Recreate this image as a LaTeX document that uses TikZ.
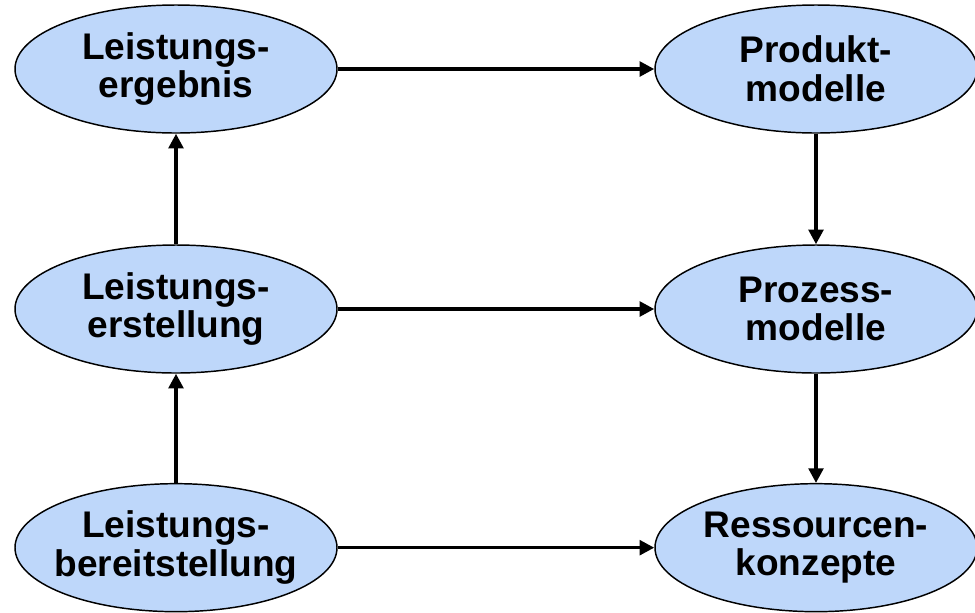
\documentclass[tikz,border=0pt]{standalone}
\usepackage{fontspec}
\setmainfont{Liberation Sans}
\usepackage{tikz}
\usetikzlibrary{arrows.meta,calc,positioning,shapes.geometric}
\definecolor{ellblue}{RGB}{190,215,250}
\tikzstyle{el}=[ellipse,draw,fill=ellblue,line width=1.1pt,minimum width=241.5pt,minimum height=96pt,inner xsep=-8pt,inner ysep=0pt,align=center,font=\fontsize{27.8}{29}\selectfont\bfseries]
\tikzstyle{ar}=[->,line width=2.6pt]

\begin{document}
\begin{tikzpicture}[
      >={Triangle[length=11pt,width=11pt]},
      auto
    ]
     \useasboundingbox (0,0) rectangle (731.25pt,-459pt);

     \node [el] (n1) at (132pt,-51.75pt) {Leistungs-\\ergebnis};
     \node [el] (n2) [node distance=480pt,right of=n1] {Produkt-\\modelle};
     \node [el] (n3) [node distance=180pt,below of=n1] {Leistungs-\\erstellung};
     \node [el] (n4) [node distance=180pt,below of=n2] {Prozess-\\modelle};
     \node [el] (n5) [node distance=179pt,below of=n3] {Leistungs-\\bereitstellung};
     \node [el] (n6) [node distance=179pt,below of=n4] {Ressourcen-\\konzepte};

      \draw[ar] (n1) -- (n2);
      \draw[ar] (n3) -- (n4);
      \draw[ar] (n5) -- (n6);
      \draw[ar] (n3) -- (n1);
      \draw[ar] (n5) -- (n3);
      \draw[ar] (n2) -- (n4);
      \draw[ar] (n4) -- (n6);
    \end{tikzpicture}
\end{document}
